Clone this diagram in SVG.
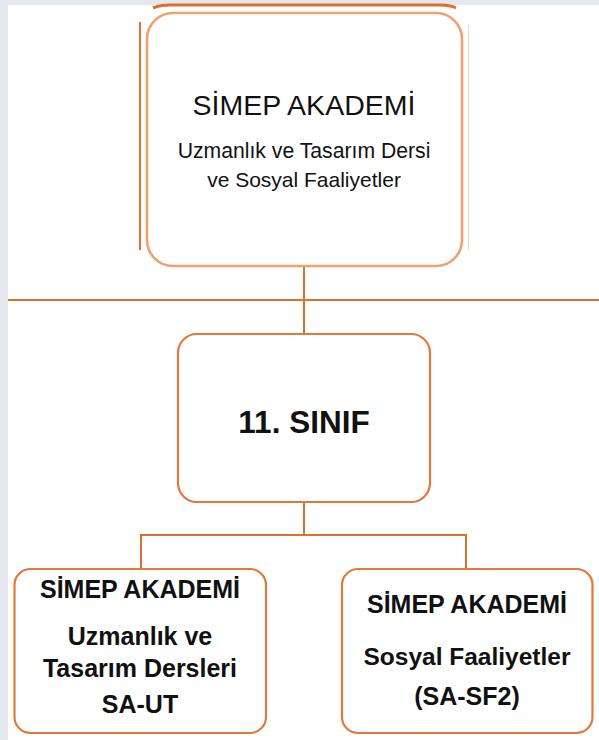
<svg xmlns="http://www.w3.org/2000/svg" width="599" height="740" viewBox="0 0 599 740">
<style>
.box{fill:#ffffff;stroke:#e07a3a;stroke-width:2.2}
.boxl{fill:#ffffff;stroke:#eda274;stroke-width:2.6}
.line{stroke:#d9702d;stroke-width:2;fill:none}
.t{font-family:"Liberation Sans",Arial,sans-serif;fill:#111111;text-anchor:middle}
.b{font-weight:bold}
</style>
<rect x="0" y="0" width="599" height="740" fill="#e5e8ef"/>
<rect x="8" y="5" width="591" height="735" fill="#ffffff"/>
<g id="connectors">
<line class="line" x1="304" y1="266" x2="304" y2="334"/>
<line class="line" x1="8" y1="300" x2="599" y2="300"/>
<line class="line" x1="304" y1="502" x2="304" y2="535"/>
<polyline class="line" points="141,569 141,535 466,535 466,569"/>
</g>
<g id="node-top">
<path d="M153,8 Q160,5 170,5 L440,5 Q450,5 456,8" fill="none" stroke="#de6e2c" stroke-width="3"/>
<line x1="140" y1="22" x2="140" y2="250" stroke="#e07030" stroke-width="2"/>
<line x1="468.5" y1="25" x2="468.5" y2="250" stroke="#f6d2bb" stroke-width="1"/>
<rect class="boxl" x="147" y="13" width="315" height="253" rx="26"/>
<text class="t" x="304" y="115" font-size="28.5">SİMEP AKADEMİ</text>
<text class="t" x="304" y="158" font-size="21.2">Uzmanlık ve Tasarım Dersi</text>
<text class="t" x="304" y="187" font-size="21">ve Sosyal Faaliyetler</text>
</g>
<g id="node-sinif">
<rect class="box" x="178" y="334" width="252" height="168" rx="19"/>
<text class="t b" x="304" y="433" font-size="31.5">11. SINIF</text>
</g>
<g id="node-ut">
<rect class="box" x="14.5" y="569" width="251.5" height="164" rx="16"/>
<text class="t b" x="140" y="598" font-size="25">SİMEP AKADEMİ</text>
<text class="t b" x="140" y="645" font-size="25">Uzmanlık ve</text>
<text class="t b" x="140" y="677" font-size="25">Tasarım Dersleri</text>
<text class="t b" x="140" y="713" font-size="25">SA-UT</text>
</g>
<g id="node-sf">
<rect class="box" x="342" y="569" width="250.5" height="164" rx="16"/>
<text class="t b" x="467" y="613" font-size="25">SİMEP AKADEMİ</text>
<text class="t b" x="467" y="665" font-size="24.5">Sosyal Faaliyetler</text>
<text class="t b" x="467" y="705" font-size="25">(SA-SF2)</text>
</g>
</svg>
